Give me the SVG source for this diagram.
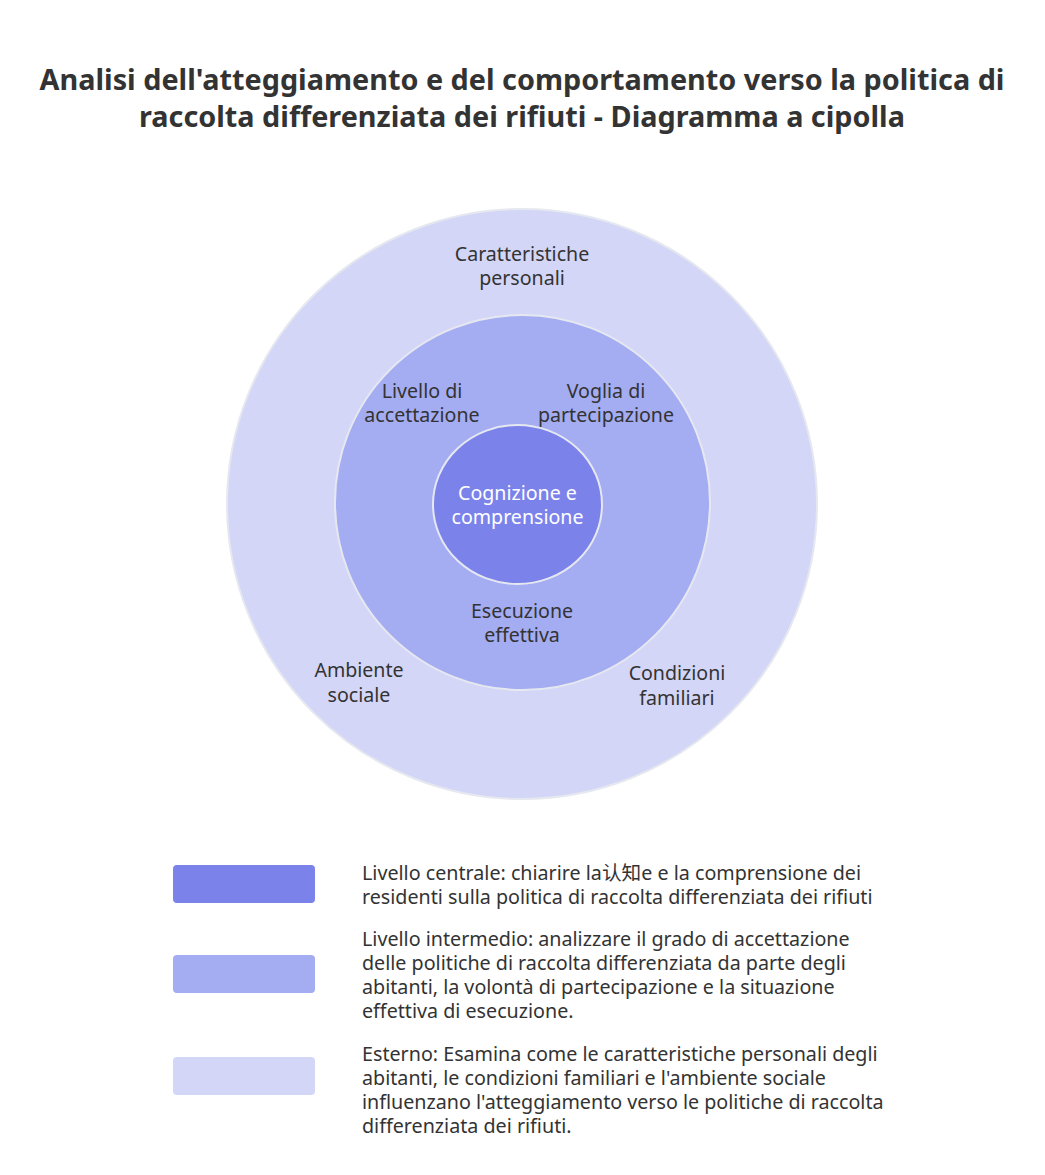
<svg xmlns="http://www.w3.org/2000/svg" width="1045" height="1175" viewBox="0 0 1045 1175">
<style>
  text { font-family: "Noto Sans", "Open Sans", "Noto Sans CJK SC", sans-serif; fill: #333333; }
  .title { font-size: 28.8px; font-weight: bold; text-anchor: middle; }
  .lbl { font-size: 19.6px; text-anchor: middle; }
  .lbl-w { font-size: 19.6px; text-anchor: middle; fill: #ffffff; }
  .leg { font-size: 19.7px; }
  .ring { stroke: #e6e8f0; stroke-width: 2; }
</style>
<rect width="1045" height="1175" fill="#ffffff"/>
<g id="title">
  <text class="title" x="522" y="90">Analisi dell'atteggiamento e del comportamento verso la politica di</text>
  <text class="title" x="522" y="127">raccolta differenziata dei rifiuti - Diagramma a cipolla</text>
</g>
<g id="outer">
  <circle class="ring" cx="522" cy="504" r="295" fill="#d3d6f7"/>
  <text class="lbl" x="522" y="261">Caratteristiche</text>
  <text class="lbl" x="522" y="285">personali</text>
  <text class="lbl" x="359" y="677">Ambiente</text>
  <text class="lbl" x="359" y="702">sociale</text>
  <text class="lbl" x="677" y="680">Condizioni</text>
  <text class="lbl" x="677" y="705">familiari</text>
</g>
<g id="middle">
  <circle class="ring" cx="522.5" cy="502.5" r="187.5" fill="#a4acf2"/>
  <text class="lbl" x="422" y="398">Livello di</text>
  <text class="lbl" x="422" y="422">accettazione</text>
  <text class="lbl" x="606" y="398">Voglia di</text>
  <text class="lbl" x="606" y="422">partecipazione</text>
  <text class="lbl" x="522" y="618">Esecuzione</text>
  <text class="lbl" x="522" y="642">effettiva</text>
</g>
<g id="inner">
  <ellipse class="ring" cx="517.5" cy="504.5" rx="84.5" ry="79.5" fill="#7b83eb"/>
  <text class="lbl-w" x="517.5" y="500">Cognizione e</text>
  <text class="lbl-w" x="517.5" y="524">comprensione</text>
</g>
<g id="legend-1">
  <rect x="173" y="865" width="142" height="38" rx="4" fill="#7b83eb"/>
  <text class="leg" x="362" y="880">Livello centrale: chiarire la认知e e la comprensione dei</text>
  <text class="leg" x="362" y="904">residenti sulla politica di raccolta differenziata dei rifiuti</text>
</g>
<g id="legend-2">
  <rect x="173" y="955" width="142" height="38" rx="4" fill="#a4acf2"/>
  <text class="leg" x="362" y="946">Livello intermedio: analizzare il grado di accettazione</text>
  <text class="leg" x="362" y="970">delle politiche di raccolta differenziata da parte degli</text>
  <text class="leg" x="362" y="994">abitanti, la volontà di partecipazione e la situazione</text>
  <text class="leg" x="362" y="1018">effettiva di esecuzione.</text>
</g>
<g id="legend-3">
  <rect x="173" y="1057" width="142" height="38" rx="4" fill="#d3d6f7"/>
  <text class="leg" x="362" y="1061">Esterno: Esamina come le caratteristiche personali degli</text>
  <text class="leg" x="362" y="1085">abitanti, le condizioni familiari e l'ambiente sociale</text>
  <text class="leg" x="362" y="1109">influenzano l'atteggiamento verso le politiche di raccolta</text>
  <text class="leg" x="362" y="1133">differenziata dei rifiuti.</text>
</g>
<g id="connectors"></g>
</svg>
